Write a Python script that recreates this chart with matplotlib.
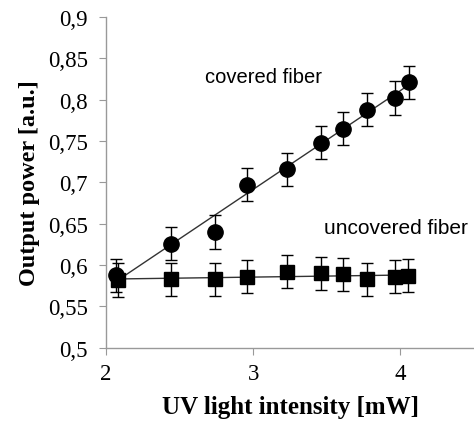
import matplotlib

matplotlib.use("Agg")

import matplotlib.pyplot as plt
import numpy as np
from matplotlib.ticker import FuncFormatter

# ---- data ----------------------------------------------------------------
covered_x = [2.07, 2.44, 2.74, 2.96, 3.23, 3.46, 3.61, 3.77, 3.96, 4.06]
covered_y = [0.588, 0.626, 0.640, 0.697, 0.716, 0.748, 0.765, 0.788, 0.802, 0.821]
covered_err = [0.02] * len(covered_x)

uncovered_x = [2.08, 2.44, 2.74, 2.96, 3.23, 3.46, 3.61, 3.77, 3.96, 4.05]
uncovered_y = [0.582, 0.583, 0.583, 0.586, 0.592, 0.590, 0.589, 0.583, 0.586, 0.587]
uncovered_err = [0.02] * len(uncovered_x)

serif = ["Liberation Serif", "DejaVu Serif"]
sans = ["Liberation Sans", "DejaVu Sans"]

fig = plt.figure(figsize=(4.74, 4.27), dpi=100, facecolor="white")
ax = fig.add_axes([0.224, 0.183, 0.776, 0.775])

# trend lines through each series
for xs, ys in ((covered_x, covered_y), (uncovered_x, uncovered_y)):
    k, b = np.polyfit(xs, ys, 1)
    xx = np.array([min(xs), max(xs)])
    ax.plot(xx, k * xx + b, color="#333333", lw=1.0, zorder=2)

ax.errorbar(covered_x, covered_y, yerr=covered_err, fmt="o", color="black",
            ms=11, capsize=4, elinewidth=1.0, capthick=1.0, zorder=3)
ax.errorbar(uncovered_x, uncovered_y, yerr=uncovered_err, fmt="s", color="black",
            ms=10, capsize=4, elinewidth=1.0, capthick=1.0, zorder=3)

ax.text(3.07, 0.8285, "covered fiber", family=sans, fontsize=14.5,
        ha="center", va="center")
ax.text(3.48, 0.645, "uncovered fiber", family=sans, fontsize=15,
        ha="left", va="center", clip_on=False)

ax.set_xlim(2, 4.5)
ax.set_ylim(0.5, 0.9)
ax.set_xticks([2, 3, 4])
ax.set_yticks(np.arange(0.5, 0.901, 0.05))
ax.yaxis.set_major_formatter(FuncFormatter(lambda v, p: f"{v:g}".replace(".", ",")))

for side in ("top", "right"):
    ax.spines[side].set_visible(False)
for side in ("left", "bottom"):
    ax.spines[side].set_color("#999999")
    ax.spines[side].set_linewidth(1.0)
ax.tick_params(direction="out", length=5, color="#999999", labelsize=16.5)
ax.tick_params(axis="y", pad=8)
ax.tick_params(axis="x", pad=6)
for lab in ax.get_xticklabels() + ax.get_yticklabels():
    lab.set_family(serif)

ax.set_xlabel("UV light intensity [mW]", family=serif, fontsize=18,
              fontweight="bold", labelpad=8)
ax.set_ylabel("Output power [a.u.]", family=serif, fontsize=17.5,
              fontweight="bold", labelpad=6)

fig.savefig("out.png", dpi=100)
